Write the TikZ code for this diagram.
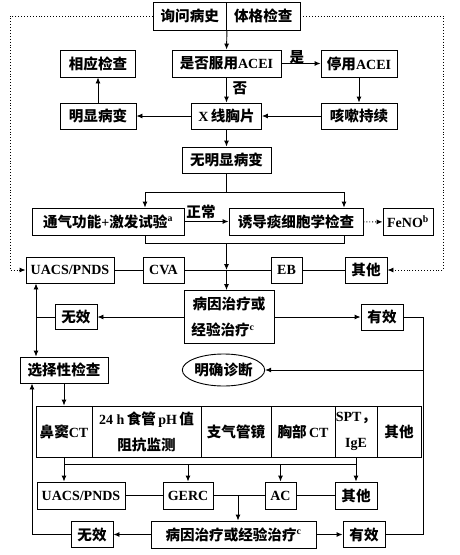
\documentclass[tikz,border=0pt]{standalone}
\usepackage{fontspec}
\setmainfont{Liberation Serif}
\newfontfamily\cjk{Noto Sans CJK SC}[Scale=1.04]
\usetikzlibrary{arrows.meta,shapes.geometric}
\newcommand{\zh}[1]{{\cjk #1}}
\tikzset{
  box/.style={draw, line width=0.9pt, inner sep=0pt, minimum height=26pt,
    font=\bfseries\fontsize{14}{26}\selectfont, align=center},
  lbl/.style={inner sep=0pt, font=\bfseries\fontsize{14}{16}\selectfont},
  ln/.style={line width=0.9pt},
  arr/.style={ln, -{Latex[length=6pt,width=5pt]}},
  darr/.style={ln, {Latex[length=6pt,width=5pt]}-{Latex[length=6pt,width=5pt]}},
  dotln/.style={line width=0.9pt, dotted},
  dotarr/.style={dotln, -{Latex[length=6pt,width=5pt]}},
}
\begin{document}
\begin{tikzpicture}[x=1pt,y=-1pt]
\useasboundingbox (0,0) rectangle (460,555);
% top part
\node[box, minimum width=73.5pt, minimum height=28pt] (q1) at (189.75,16) {\zh{询问病史}};
\node[box, minimum width=73.5pt, minimum height=28pt] (q2) at (263.25,16) {\zh{体格检查}};
\node[box, minimum width=109pt, minimum height=27pt] (acei) at (226.5,63.5) {\zh{是否服用}ACEI};
\node[box, minimum width=76pt, minimum height=27pt] (stop) at (359,63.5) {\zh{停用}ACEI};
\node[box, minimum width=75pt, minimum height=27pt] (xy) at (98,63.5) {\zh{相应检查}};
\node[box, minimum width=76pt] (mx) at (98,116) {\zh{明显病变}};
\node[box, minimum width=70pt] (xray) at (226.5,116) {X\,\zh{线胸片}};
\node[box, minimum width=76pt] (ks) at (359,116) {\zh{咳嗽持续}};
\node[box, minimum width=89pt] (wm) at (226.5,160) {\zh{无明显病变}};
% tests
\node[box, minimum width=152pt, minimum height=27pt] (tq) at (108,221.5) {\zh{通气功能}+\zh{激发试验}\textsuperscript{a}};
\node[box, minimum width=134pt, minimum height=27pt] (yd) at (296,221.5) {\zh{诱导痰细胞学检查}};
\node[box, minimum width=50pt, minimum height=27pt] (feno) at (408,222) {FeNO\textsuperscript{b}};
% diagnosis row
\node[box, minimum width=88pt] (uacs1) at (70,270) {UACS/PNDS};
\node[box, minimum width=41pt] (cva) at (163.5,270) {CVA};
\node[box, minimum width=31pt] (eb) at (286.5,270) {EB};
\node[box, minimum width=42pt] (qt1) at (366,270) {\zh{其他}};
% treatment 1
\node[box, minimum width=90pt, minimum height=53pt] (tr1) at (229,317) {\zh{病因治疗或}\\\zh{经验治疗}\textsuperscript{c}\hspace*{12pt}};
\node[box, minimum width=42pt, minimum height=25pt] (wx1) at (76,317) {\zh{无效}};
\node[box, minimum width=42pt] (yx1) at (382,317) {\zh{有效}};
\node[box, minimum width=88pt] (xz) at (64,370) {\zh{选择性检查}};
\node[draw, ellipse, line width=0.9pt, inner sep=0pt, minimum width=81pt, minimum height=32pt,
  font=\bfseries\fontsize{14}{16}\selectfont] (md) at (223.5,370) {\zh{明确诊断}};
% table
\node[box, minimum width=56pt, minimum height=51pt] (c1) at (64,431.5) {\zh{鼻窦}CT};
\node[box, minimum width=109pt, minimum height=51pt] (c2) at (146.5,431.5) {24 h\,\zh{食管}\,pH\,\zh{值}\\\zh{阻抗监测}};
\node[box, minimum width=70pt, minimum height=51pt] (c3) at (236,431.5) {\zh{支气管镜}};
\node[box, minimum width=64pt, minimum height=51pt] (c4) at (303,431.5) {\zh{胸部}\,CT};
\node[box, minimum width=42pt, minimum height=51pt] (c5) at (356,431.5) {SPT\zh{，}\\IgE};
\node[box, minimum width=44pt, minimum height=51pt] (c6) at (399,431.5) {\zh{其他}};
% bottom row
\node[box, minimum width=88pt, minimum height=27pt] (uacs2) at (81,495.5) {UACS/PNDS};
\node[box, minimum width=50pt, minimum height=27pt] (gerc) at (188,495.5) {GERC};
\node[box, minimum width=31pt, minimum height=27pt] (ac) at (280.5,495.5) {AC};
\node[box, minimum width=42pt, minimum height=27pt] (qt3) at (356,495.5) {\zh{其他}};
\node[box, minimum width=165pt, minimum height=27pt] (tr2) at (233.5,534.5) {\zh{病因治疗或经验治疗}\textsuperscript{c}};
\node[box, minimum width=42pt] (wx2) at (92,534.5) {\zh{无效}};
\node[box, minimum width=42pt] (yx2) at (364,534.5) {\zh{有效}};
% labels
\node[lbl] (lshi) at (297,57) {\zh{是}};
\node[lbl] (lfou) at (240,88) {\zh{否}};
\node[lbl] (lzc) at (201,212) {\zh{正常}};
% coordinates
\coordinate (sl) at (145,192);
\coordinate (sr) at (344,192);
\coordinate (ml) at (145,243);
\coordinate (mr) at (344,243);
\coordinate (rowc) at (226.5,270);
\coordinate (vx) at (36,0);
\coordinate (lx) at (32,0);
\coordinate (rx) at (423,0);
\coordinate (dl) at (10,16);
\coordinate (dr) at (443,16);
\coordinate (bl) at (64,464);
\coordinate (bc) at (238,495.5);
% connectors top
\draw[arr] (q1.south east) -- (acei.north);
\draw[arr] (acei) -- (stop);
\draw[arr] (acei) -- (xray);
\draw[arr] (stop) -- (ks);
\draw[arr] (ks) -- (xray);
\draw[arr] (xray) -- (mx);
\draw[arr] (mx) -- (xy);
\draw[arr] (xray) -- (wm);
\draw[ln] (wm.south) -- (wm.south |- sl);
\draw[ln] (sl) -- (sr);
\draw[arr] (sl) -- (sl |- tq.north);
\draw[arr] (sr) -- (sr |- yd.north);
\draw[arr] (tq.east) -- (yd.west);
\draw[dotarr] (yd) -- (feno);
\draw[ln] (sl |- tq.south) -- (ml) -- (mr) -- (sr |- yd.south);
\draw[arr] (wm.south |- ml) -- (rowc);
\draw[arr] (rowc) -- (rowc |- tr1.north);
\draw[ln] (uacs1) -- (cva) -- (eb) -- (qt1);
\draw[dotarr] (q1.west) -- (dl) |- (uacs1.west);
\draw[dotarr] (q2.east) -- (dr) |- (qt1.east);
% treatment 1
\draw[arr] (tr1) -- (wx1);
\draw[arr] (tr1) -- (yx1);
\draw[ln] (wx1.west) -- (vx |- wx1.west);
\draw[darr] (vx |- uacs1.south) -- (vx |- xz.north);
\draw[ln] (yx1.east) -- (rx |- yx1.east) -- (rx |- yx2.east) -- (yx2.east);
\draw[arr] (rx |- md.east) -- (md.east);
\draw[arr] (xz.south) -- (c1.north);
% bottom
\draw[ln] (c1.south) -- (bl) -- (bl -| c5.south) -- (c5.south);
\draw[arr] (bl) -- (bl |- uacs2.north);
\draw[arr] (bl -| gerc.north) -- (gerc.north);
\draw[arr] (bl -| ac.north) -- (ac.north);
\draw[arr] (bl -| qt3.north) -- (qt3.north);
\draw[ln] (uacs2) -- (gerc) -- (ac) -- (qt3);
\draw[arr] (bc) -- (bc |- tr2.north);
\draw[arr] (tr2) -- (wx2);
\draw[arr] (tr2) -- (yx2);
\draw[arr] (wx2.west) -- (lx |- wx2.west) -- (lx |- xz.south);
\end{tikzpicture}
\end{document}
